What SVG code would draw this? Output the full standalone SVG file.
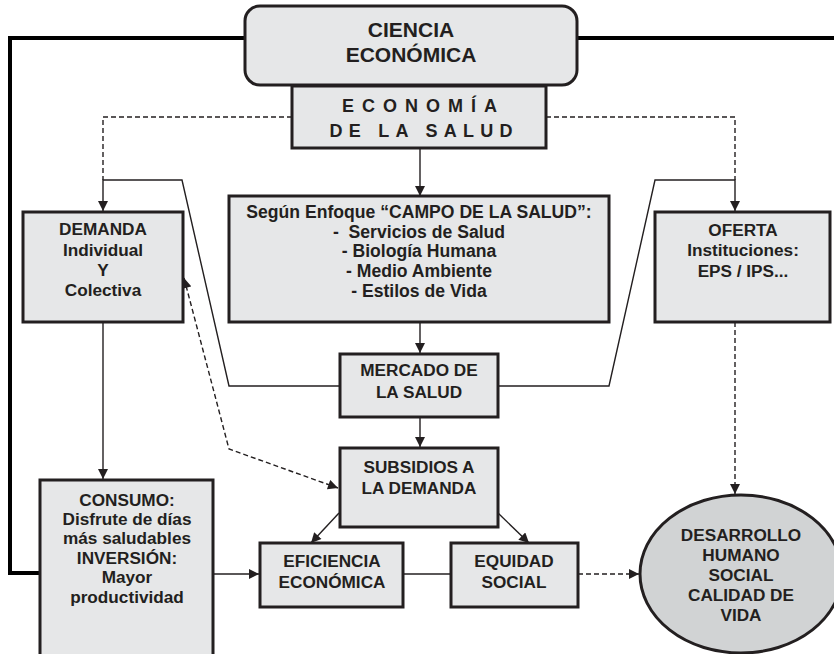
<svg xmlns="http://www.w3.org/2000/svg" width="834" height="654" viewBox="0 0 834 654">
<defs>
<style>
.box{fill:#e6e7e8;stroke:#231f20;stroke-width:3}
.ell{fill:#d1d3d4;stroke:#231f20;stroke-width:3}
.t{font-family:"Liberation Sans",Arial,Helvetica,sans-serif;font-weight:bold;font-size:17.2px;fill:#231f20;text-anchor:middle}
.big{font-size:21px}
.sp{font-size:18px}
.mid{font-size:17.6px}
.ln{fill:none;stroke:#231f20;stroke-width:1.4}
.dash{fill:none;stroke:#231f20;stroke-width:1.4;stroke-dasharray:5 3}
.thick{fill:none;stroke:#000;stroke-width:4}
</style>
<marker id="ah" viewBox="0 0 10 10" refX="10" refY="5" markerWidth="11" markerHeight="10" markerUnits="userSpaceOnUse" orient="auto">
<path d="M0,0 L10,5 L0,10 z" fill="#231f20"/>
</marker>
<marker id="as" viewBox="0 0 10 10" refX="0" refY="5" markerWidth="11" markerHeight="10" markerUnits="userSpaceOnUse" orient="auto">
<path d="M10,0 L0,5 L10,10 z" fill="#231f20"/>
</marker>
</defs>
<rect width="834" height="654" fill="#fff"/>
<g id="connectors">
<path class="thick" d="M245,38 H10 V573 H40"/>
<path class="thick" d="M577,38 H834"/>
<path class="ln" d="M420,148 V196" marker-end="url(#ah)"/>
<path class="ln" d="M420,322 V353" marker-end="url(#ah)"/>
<path class="ln" d="M420,417 V447" marker-end="url(#ah)"/>
<path class="dash" d="M292,117 H103 V180"/>
<path class="dash" d="M546,117 H735 V180"/>
<path class="ln" d="M340,386 H229 L182,180 H103 V211" marker-end="url(#ah)"/>
<path class="ln" d="M498,386 H609 L655,180 H735 V211" marker-end="url(#ah)"/>
<path class="ln" d="M103,322 V479" marker-end="url(#ah)"/>
<path class="dash" d="M184,278 L229,449 L338,488" marker-start="url(#as)" marker-end="url(#ah)"/>
<path class="ln" d="M339,513 L311,543" marker-end="url(#ah)"/>
<path class="ln" d="M498,513 L529,543" marker-end="url(#ah)"/>
<path class="ln" d="M213,574 H259" marker-end="url(#ah)"/>
<path class="ln" d="M403,574 H451"/>
<path class="dash" d="M578,574 H639" marker-end="url(#ah)"/>
<path class="dash" d="M735,322 V494" marker-end="url(#ah)"/>
</g>
<g id="ciencia">
<rect class="box" x="245" y="6" width="332" height="79" rx="15"/>
<text class="t big" x="411" y="37">CIENCIA</text>
<text class="t big" x="411" y="62">ECONÓMICA</text>
</g>
<g id="economia">
<rect class="box" x="292" y="86" width="254" height="62"/>
<text class="t sp" x="419.5" y="112" textLength="155" lengthAdjust="spacing">ECONOMÍA</text>
<text class="t sp" x="421" y="137" textLength="183" lengthAdjust="spacing">DE LA SALUD</text>
</g>
<g id="demanda">
<rect class="box" x="23" y="212" width="160" height="110"/>
<text class="t" x="103" y="235">DEMANDA</text>
<text class="t" x="103" y="256">Individual</text>
<text class="t" x="103" y="276">Y</text>
<text class="t" x="103" y="296">Colectiva</text>
</g>
<g id="enfoque">
<rect class="box" x="229" y="196" width="380" height="126"/>
<text class="t mid" x="419" y="218">Según Enfoque “CAMPO DE LA SALUD”:</text>
<text class="t mid" x="419" y="238" xml:space="preserve">-  Servicios de Salud</text>
<text class="t mid" x="419" y="257">- Biología Humana</text>
<text class="t mid" x="419" y="277">- Medio Ambiente</text>
<text class="t mid" x="419" y="297">- Estilos de Vida</text>
</g>
<g id="oferta">
<rect class="box" x="655" y="212" width="175" height="110"/>
<text class="t" x="743" y="236">OFERTA</text>
<text class="t" x="743" y="256">Instituciones:</text>
<text class="t" x="743" y="277">EPS / IPS...</text>
</g>
<g id="mercado">
<rect class="box" x="340" y="354" width="158" height="63"/>
<text class="t" x="419" y="376">MERCADO DE</text>
<text class="t" x="419" y="398">LA SALUD</text>
</g>
<g id="subsidios">
<rect class="box" x="340" y="448" width="158" height="79"/>
<text class="t" x="419" y="473">SUBSIDIOS A</text>
<text class="t" x="419" y="494">LA DEMANDA</text>
</g>
<g id="consumo">
<rect class="box" x="40" y="480" width="173" height="176"/>
<text class="t" x="127" y="506">CONSUMO:</text>
<text class="t" x="127" y="525">Disfrute de días</text>
<text class="t" x="127" y="544">más saludables</text>
<text class="t" x="127" y="564">INVERSIÓN:</text>
<text class="t" x="127" y="583">Mayor</text>
<text class="t" x="127" y="603">productividad</text>
</g>
<g id="eficiencia">
<rect class="box" x="260" y="543" width="143" height="64"/>
<text class="t" x="332" y="567">EFICIENCIA</text>
<text class="t" x="332" y="588">ECONÓMICA</text>
</g>
<g id="equidad">
<rect class="box" x="451" y="543" width="127" height="64"/>
<text class="t" x="514" y="567">EQUIDAD</text>
<text class="t" x="514" y="588">SOCIAL</text>
</g>
<g id="desarrollo">
<ellipse class="ell" cx="741" cy="574" rx="101" ry="79"/>
<text class="t" x="741" y="541">DESARROLLO</text>
<text class="t" x="741" y="561">HUMANO</text>
<text class="t" x="741" y="581">SOCIAL</text>
<text class="t" x="741" y="601">CALIDAD DE</text>
<text class="t" x="741" y="621">VIDA</text>
</g>
</svg>
